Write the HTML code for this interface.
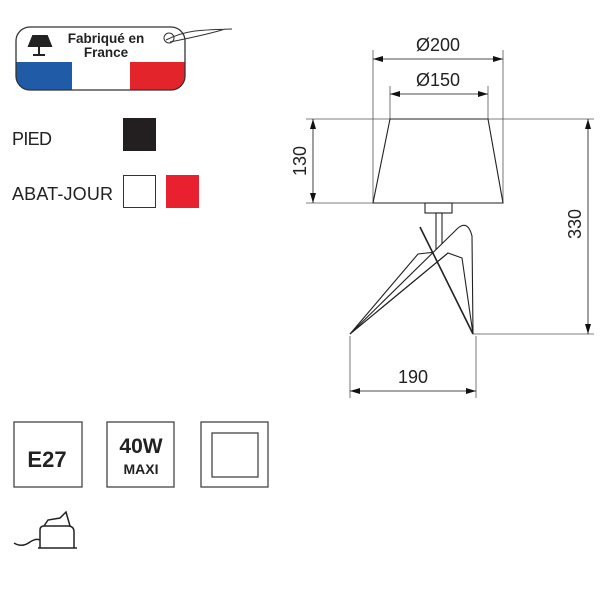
<!DOCTYPE html>
<html><head><style>
body{margin:0;width:600px;height:600px;background:#fff;overflow:hidden;font-family:"Liberation Sans",sans-serif}
</style></head><body>
<svg width="600" height="600" viewBox="0 0 600 600" xmlns="http://www.w3.org/2000/svg" font-family="Liberation Sans, sans-serif">
<defs>
<clipPath id="tag"><rect x="16" y="27" width="169" height="63" rx="14"/></clipPath>
<marker id="a" viewBox="0 0 10 6" refX="10" refY="3" markerWidth="11" markerHeight="6" orient="auto-start-reverse" markerUnits="userSpaceOnUse"><path d="M0,0L10,3L0,6z" fill="#111"/></marker>
</defs>
<g clip-path="url(#tag)">
<rect x="16" y="27" width="169" height="63" fill="#fff"/>
<rect x="16" y="62" width="56" height="28" fill="#1f5ba6"/>
<rect x="72" y="62" width="58" height="28" fill="#fff"/>
<rect x="130" y="62" width="55" height="28" fill="#e3242b"/>
</g>
<rect x="16" y="27" width="169" height="63" rx="14" fill="none" stroke="#333" stroke-width="1.3"/>
<path d="M29,46h22l-4,-10h-14z M39,46v8 M33,55h12" fill="#222" stroke="#222" stroke-width="2"/>
<text x="106" y="43" font-size="13.5" font-weight="bold" text-anchor="middle" fill="#222">Fabriqué en</text>
<text x="106" y="57" font-size="13.5" font-weight="bold" text-anchor="middle" fill="#222">France</text>
<circle cx="169" cy="38" r="5" fill="none" stroke="#333"/>
<path d="M166,40 C185,30 200,30 232,29 M170,42 C190,38 210,34 225,29" fill="none" stroke="#333"/>
<text x="12" y="145" font-size="18" fill="#222" textLength="40">PIED</text>
<rect x="123" y="118" width="33" height="33" fill="#231f20"/>
<text x="12" y="200" font-size="18" fill="#222" textLength="101">ABAT-JOUR</text>
<rect x="123.5" y="175.5" width="32" height="32" fill="#fff" stroke="#333"/>
<rect x="166" y="175" width="33" height="33" fill="#e8202f"/>
<g stroke="#555" stroke-width="0.8" fill="none">
<line x1="373" y1="50" x2="373" y2="203"/><line x1="503" y1="50" x2="503" y2="203"/>
<line x1="390" y1="86" x2="390" y2="119"/><line x1="488" y1="86" x2="488" y2="119"/>
<line x1="306" y1="119" x2="594" y2="119"/>
<line x1="306" y1="203" x2="373" y2="203"/>
<line x1="473" y1="334" x2="594" y2="334"/>
<line x1="350" y1="336" x2="350" y2="398"/><line x1="476" y1="336" x2="476" y2="398"/>
</g>
<g stroke="#111" stroke-width="0.8" marker-start="url(#a)" marker-end="url(#a)">
<line x1="373" y1="59" x2="503" y2="59"/>
<line x1="390" y1="94" x2="488" y2="94"/>
<line x1="313" y1="119" x2="313" y2="203"/>
<line x1="588" y1="119" x2="588" y2="334"/>
<line x1="350" y1="391" x2="476" y2="391"/>
</g>
<g font-size="18" fill="#222" text-anchor="middle">
<text x="438" y="51">Ø200</text>
<text x="438" y="86">Ø150</text>
<text x="413" y="383">190</text>
<text transform="translate(306,161) rotate(-90)">130</text>
<text transform="translate(581,224) rotate(-90)">330</text>
</g>
<g stroke="#222" stroke-width="1.1" fill="#fff">
<path d="M390,119H488L503,203H373z"/>
<rect x="425" y="203" width="27" height="10"/>
<rect x="436" y="213" width="6" height="38"/>
<path d="M350,334 L418,254 L436,252 z"/>
<path d="M350,334 L458,228 Q468,220 472,236 L473,334 L462,258 L448,253 z"/>
<line x1="420" y1="227" x2="473" y2="334" stroke-width="1.6"/>
<line x1="350" y1="334" x2="448" y2="253"/>
</g>
<g stroke="#444" stroke-width="1.3" fill="none">
<rect x="14" y="422" width="68" height="65"/>
<rect x="107" y="422" width="67" height="65"/>
<rect x="201" y="422" width="67" height="65"/>
<rect x="212" y="433" width="46" height="44"/>
</g>
<text x="47" y="467" font-size="22" font-weight="bold" text-anchor="middle" fill="#222">E27</text>
<text x="141" y="453" font-size="21" font-weight="bold" text-anchor="middle" fill="#222">40W</text>
<text x="141" y="474" font-size="14" font-weight="bold" text-anchor="middle" fill="#222">MAXI</text>
<g stroke="#222" stroke-width="1.5" fill="none">
<path d="M38,548H77 M40,548V530Q40,526 44,526H68Q74,526 74,532V548 M44,526L48,520L60,518L66,512L70,526"/>
<path d="M14,543Q22,548 30,542Q36,538 40,540"/>
</g>
</svg>
</body></html>
